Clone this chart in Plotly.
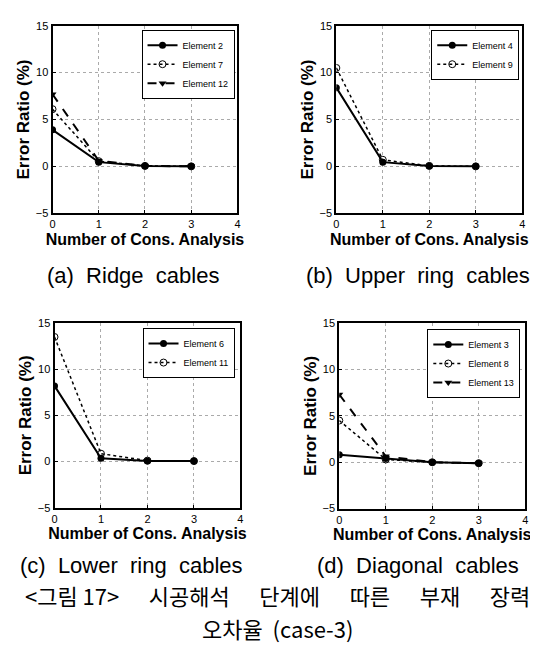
import plotly.graph_objects as go

# 시공해석 단계 (x) 와 부재별 오차율 (%)
steps = [0, 1, 2, 3]

ridge_names = ["Element 2", "Element 7", "Element 12"]
ridge_vals = [
    [3.9, 0.45, 0.05, 0.0],
    [6.1, 0.55, 0.05, 0.0],
    [7.7, 0.6, 0.05, 0.0],
]

upper_names = ["Element 4", "Element 9"]
upper_vals = [
    [8.4, 0.45, 0.05, 0.0],
    [10.5, 0.7, 0.05, 0.0],
]

lower_names = ["Element 6", "Element 11"]
lower_vals = [
    [8.2, 0.35, 0.05, 0.05],
    [13.5, 0.85, 0.1, 0.05],
]

diag_names = ["Element 3", "Element 8", "Element 13"]
diag_vals = [
    [0.8, 0.4, 0.0, -0.1],
    [4.5, 0.3, 0.0, -0.1],
    [7.3, 0.65, 0.0, -0.1],
]

SP = "\u00a0 "  # 넓은 단어 간격
captions = ["(a)" + SP + "Ridge" + SP + "cables",
            "(b)" + SP + "Upper" + SP + "ring" + SP + "cables",
            "(c)" + SP + "Lower" + SP + "ring" + SP + "cables",
            "(d)" + SP + "Diagonal" + SP + "cables"]
KSP = "\u00a0\u00a0\u00a0\u00a0\u00a0 "
fig_title_1 = KSP.join(["<그림 17>", "시공해석", "단계에", "따른", "부재", "장력"])
fig_title_2 = "오차율\u00a0 (case-3)"

W, H = 538, 646

# 선 스타일: 실선+채운 원, 점선+빈 원, 파선+역삼각형
styles = [
    dict(line=dict(color="black", width=2, dash="solid"),
         marker=dict(symbol="circle", size=7, color="black")),
    dict(line=dict(color="black", width=1.5, dash="dot"),
         marker=dict(symbol="circle-open", size=7, color="black", line=dict(width=1))),
    dict(line=dict(color="black", width=2, dash="dash"),
         marker=dict(symbol="triangle-down", size=7, color="black")),
]

# 패널 위치 (픽셀): 좌, 우, 위, 아래
panels = [
    (42, 229, 12, 203),
    (329, 517, 12, 203),
    (44, 232, 315, 503),
    (332, 520, 315, 504),
]
# 범례 위치 (픽셀): 좌, 위
legend_pos = [(132, 16), (425, 16), (133, 320), (421, 321)]

data = [(ridge_names, ridge_vals), (upper_names, upper_vals),
        (lower_names, lower_vals), (diag_names, diag_vals)]

fig = go.Figure()
layout = dict()

for i, ((names, vals), (l, r, t, b)) in enumerate(zip(data, panels)):
    ax = "" if i == 0 else str(i + 1)
    leg = "legend" if i == 0 else "legend" + str(i + 1)
    for j, (nm, v) in enumerate(zip(names, vals)):
        fig.add_trace(go.Scatter(
            x=steps, y=v, name=nm, mode="lines+markers",
            xaxis="x" + ax, yaxis="y" + ax, legend=leg, **styles[j]))

    common = dict(showline=True, mirror=True, linecolor="black", linewidth=2,
                  showgrid=True, gridcolor="#aaa", gridwidth=1, griddash="dot",
                  zeroline=False, ticks="inside", ticklen=3, tickcolor="black",
                  tickfont=dict(family="Liberation Sans", size=11, color="black"))
    layout["xaxis" + ax] = dict(
        common, domain=[l / W, r / W], anchor="y" + ax, range=[0, 4], dtick=1,
        title=dict(text="<b>Number of Cons. Analysis</b>", standoff=4,
                   font=dict(family="Liberation Sans", size=16, color="black")))
    layout["yaxis" + ax] = dict(
        common, domain=[1 - b / H, 1 - t / H], anchor="x" + ax, range=[-5, 15], dtick=5,
        title=dict(text="<b>Error Ratio (%)</b>", standoff=2,
                   font=dict(family="Liberation Sans", size=17, color="black")))
    lx, ly = legend_pos[i]
    layout[leg] = dict(x=lx / W, y=1 - ly / H, xanchor="left", yanchor="top",
                       bgcolor="white", bordercolor="black", borderwidth=1,
                       font=dict(family="Liberation Sans", size=9, color="black"),
                       itemwidth=30, tracegroupgap=0)

cap_font = dict(family="Liberation Sans, Noto Sans CJK KR", size=22, color="black")
cap_pos = [(123, 266), (412, 266), (122, 562), (412, 562)]
annotations = []
for txt, (cx, cy) in zip(captions, cap_pos):
    annotations.append(dict(text=txt, x=cx / W, y=1 - cy / H, xref="paper", yref="paper",
                            showarrow=False, font=cap_font, xanchor="center", yanchor="middle"))
kor_font = dict(family="Noto Sans CJK KR", size=22, color="black")
annotations.append(dict(text=fig_title_1, x=0.5, y=1 - 592 / H, xref="paper", yref="paper",
                        showarrow=False, font=kor_font, xanchor="center", yanchor="middle"))
annotations.append(dict(text=fig_title_2, x=0.5, y=1 - 626 / H, xref="paper", yref="paper",
                        showarrow=False, font=kor_font, xanchor="center", yanchor="middle"))

fig.update_layout(
    width=W, height=H, margin=dict(l=0, r=0, t=0, b=0),
    paper_bgcolor="white", plot_bgcolor="white",
    annotations=annotations, **layout)

fig.write_html("out.html")
